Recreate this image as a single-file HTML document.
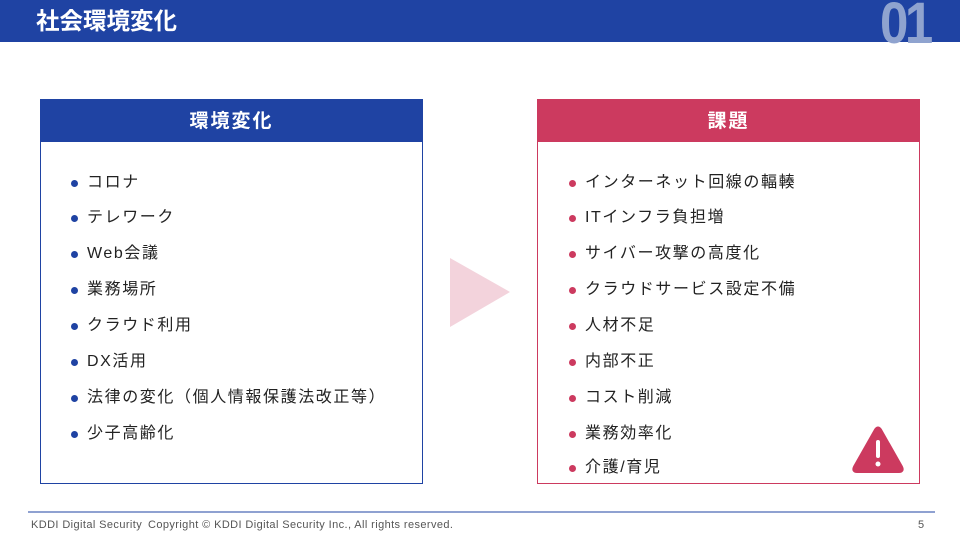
<!DOCTYPE html>
<html><head><meta charset="utf-8"><style>
body{margin:0;width:960px;height:540px;background:#fff;position:relative;overflow:hidden;font-family:"Liberation Sans","Noto Sans CJK JP",sans-serif}
.hd{position:absolute;left:0;top:0;width:960px;height:42px;background:#1f43a3}
.ttl{position:absolute;left:36px;top:5px;color:#fff;font-size:23.5px;font-weight:bold;line-height:32px}
.num{position:absolute;left:880px;top:-6px;color:#8fa3cf;font-size:58px;font-weight:bold;line-height:60px;letter-spacing:-4px;transform:scaleX(0.88);transform-origin:left}
.box{position:absolute;top:99px;width:381px;height:383px;background:#fff}
.bh{height:42px;color:#fff;font-size:19px;font-weight:bold;text-align:center;line-height:44px;letter-spacing:2px}
.it{position:absolute;font-size:16px;line-height:20px;color:#222;white-space:nowrap;letter-spacing:1.6px}
.it:before{content:"";position:absolute;left:-16px;top:7px;width:7px;height:7px;border-radius:50%;background:var(--c)}
.ft{position:absolute;top:519px;font-size:11px;color:#555;letter-spacing:0.4px}
</style></head><body>
<div class="hd"></div><div class="ttl">社会環境変化</div><div class="num">01</div>
<div class="box" style="left:40px;border:1px solid #1f43a3"><div class="bh" style="background:#1f43a3">環境変化</div></div>
<div class="box" style="left:537px;border:1px solid #cc3a5f"><div class="bh" style="background:#cc3a5f">課題</div></div>
<svg style="position:absolute;left:0;top:0" width="960" height="540">
<polygon points="450,258 510,292 450,327" fill="#f3d3dc"/>
<path d="M878,430 Q878,428 876,430 L855,467 Q853,471 857,471 L899,471 Q903,471 901,467 L880,430 Q878,427 876,430Z" fill="#cc3a5f" stroke="#cc3a5f" stroke-width="4" stroke-linejoin="round"/>
<rect x="876" y="440" width="4" height="18" rx="2" fill="#fff"/><circle cx="878" cy="464" r="2.5" fill="#fff"/>
<line x1="28" y1="512" x2="935" y2="512" stroke="#1f43a3" stroke-width="1"/>
</svg>
<div style="--c:#1f43a3">
<div class="it" style="left:87px;top:173px">コロナ</div>
<div class="it" style="left:87px;top:208px">テレワーク</div>
<div class="it" style="left:87px;top:244px">Web会議</div>
<div class="it" style="left:87px;top:280px">業務場所</div>
<div class="it" style="left:87px;top:316px">クラウド利用</div>
<div class="it" style="left:87px;top:352px">DX活用</div>
<div class="it" style="left:87px;top:388px">法律の変化（個人情報保護法改正等）</div>
<div class="it" style="left:87px;top:424px">少子高齢化</div>
</div>
<div style="--c:#cc3a5f">
<div class="it" style="left:585px;top:173px">インターネット回線の輻輳</div>
<div class="it" style="left:585px;top:208px">ITインフラ負担増</div>
<div class="it" style="left:585px;top:244px">サイバー攻撃の高度化</div>
<div class="it" style="left:585px;top:280px">クラウドサービス設定不備</div>
<div class="it" style="left:585px;top:316px">人材不足</div>
<div class="it" style="left:585px;top:352px">内部不正</div>
<div class="it" style="left:585px;top:388px">コスト削減</div>
<div class="it" style="left:585px;top:424px">業務効率化</div>
<div class="it" style="left:585px;top:458px">介護/育児</div>
</div>
<div class="ft" style="left:31px">KDDI Digital Security</div>
<div class="ft" style="left:148px">Copyright © KDDI Digital Security Inc., All rights reserved.</div>
<div class="ft" style="left:918px">5</div>
</body></html>
